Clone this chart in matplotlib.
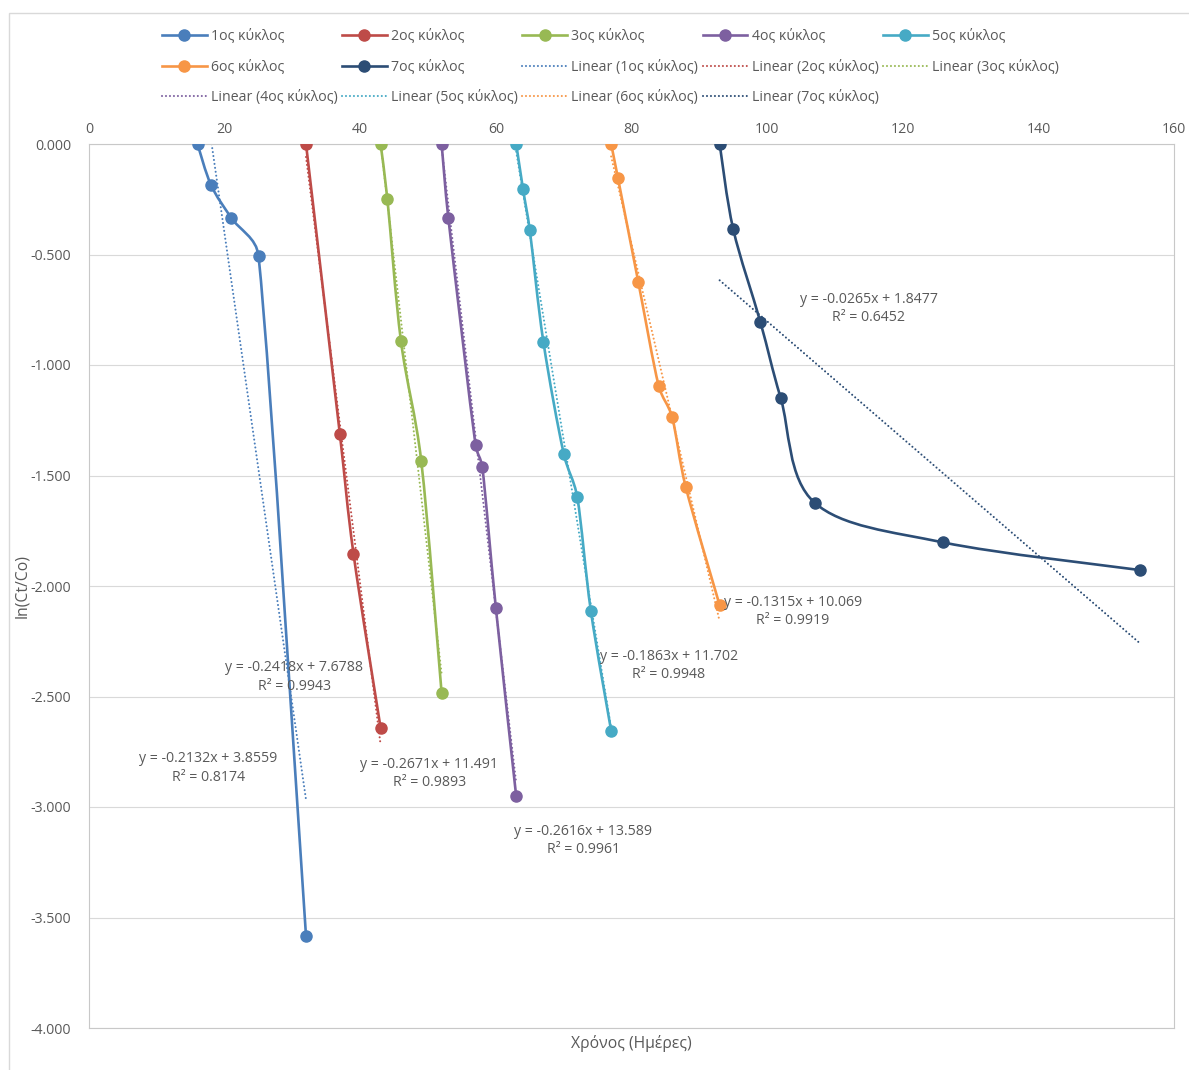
import numpy as np
import matplotlib
matplotlib.use("Agg")
import matplotlib.pyplot as plt
from matplotlib.path import Path
from matplotlib.patches import PathPatch, Rectangle
from matplotlib.lines import Line2D

plt.rcParams['font.family'] = ['Open Sans', 'DejaVu Sans']

# data
labels = ['1ος κύκλος', '2ος κύκλος', '3ος κύκλος', '4ος κύκλος',
          '5ος κύκλος', '6ος κύκλος', '7ος κύκλος']
t1 = [16, 18, 21, 25, 32]
c1 = [0.000, -0.186, -0.335, -0.507, -3.583]
t2 = [32, 37, 39, 43]
c2 = [0.000, -1.314, -1.853, -2.642]
t3 = [43, 44, 46, 49, 52]
c3 = [0.000, -0.249, -0.891, -1.436, -2.485]
t4 = [52, 53, 57, 58, 60, 63]
c4 = [0.000, -0.337, -1.362, -1.462, -2.100, -2.952]
t5 = [63, 64, 65, 67, 70, 72, 74, 77]
c5 = [0.000, -0.204, -0.390, -0.894, -1.401, -1.598, -2.111, -2.655]
t6 = [77, 78, 81, 84, 86, 88, 93]
c6 = [0.000, -0.154, -0.624, -1.093, -1.237, -1.552, -2.087]
t7 = [93, 95, 99, 102, 107, 126, 155]
c7 = [0.000, -0.385, -0.805, -1.149, -1.623, -1.803, -1.928]

# linear trendlines (as printed on the chart)
slopes = [-0.2132, -0.2418, -0.2671, -0.2616, -0.1863, -0.1315, -0.0265]
icepts = [3.8559, 7.6788, 11.491, 13.589, 11.702, 10.069, 1.8477]
eq_text = ['y = -0.2132x + 3.8559', 'y = -0.2418x + 7.6788',
           'y = -0.2671x + 11.491', 'y = -0.2616x + 13.589',
           'y = -0.1863x + 11.702', 'y = -0.1315x + 10.069',
           'y = -0.0265x + 1.8477']
r2_text = ['0.8174', '0.9943', '0.9893', '0.9961', '0.9948', '0.9919', '0.6452']
# where the equation labels sit (data coords)
eq_x = [17.6, 30.3, 50.2, 72.9, 85.5, 103.8, 115.0]
eq_y = [-2.824, -2.412, -2.847, -3.151, -2.360, -2.116, -0.743]

colors = ['#4A7EBB', '#BE4B48', '#98B954', '#7D60A0', '#46AAC5', '#F79646', '#2C4D75']
TXT = '#595959'

T = [t1, t2, t3, t4, t5, t6, t7]
C = [c1, c2, c3, c4, c5, c6, c7]

W, H = 1189, 1070
AX_L, AX_R, AX_T, AX_B = 89, 1174, 144, 1028
SX = (AX_R - AX_L) / 160.0   # px per day
SY = (AX_B - AX_T) / 4.0     # px per unit


def smooth_path(x, y, lim=0.4):
    # excel-like smoothed line: catmull-rom bezier, arms limited in screen space
    pts = np.column_stack([x, y]).astype(float)
    scl = np.array([SX, SY])
    n = len(pts)
    verts = [pts[0]]
    codes = [Path.MOVETO]
    for i in range(n - 1):
        p0 = pts[max(i - 1, 0)]
        p1 = pts[i]
        p2 = pts[i + 1]
        p3 = pts[min(i + 2, n - 1)]
        seg = np.hypot(*((p2 - p1) * scl))
        a = (p2 - p0) / 6.0
        b = (p3 - p1) / 6.0
        la = np.hypot(*(a * scl))
        lb = np.hypot(*(b * scl))
        if la > lim * seg:
            a = a * lim * seg / la
        if lb > lim * seg:
            b = b * lim * seg / lb
        verts += [p1 + a, p2 - b, p2]
        codes += [Path.CURVE4] * 3
    return Path(verts, codes)


fig = plt.figure(figsize=(W / 100, H / 100), dpi=100)
ax = fig.add_axes([AX_L / W, 1 - AX_B / H, (AX_R - AX_L) / W, (AX_B - AX_T) / H])

lw = 1.9
ms = 8
dots = (0, (0.01, 1.9))
dlw = 1.5
for i in range(7):
    ax.add_patch(PathPatch(smooth_path(T[i], C[i]), facecolor='none',
                           edgecolor=colors[i], lw=lw, zorder=3))
    ax.plot(T[i], C[i], 'o', color=colors[i], ms=ms, zorder=4)
    xs = np.array([min(T[i]), max(T[i])])
    ax.plot(xs, slopes[i] * xs + icepts[i], color=colors[i], lw=dlw,
            linestyle=dots, dash_capstyle='round', zorder=2)
    ax.text(eq_x[i], eq_y[i], eq_text[i] + '\nR² = ' + r2_text[i],
            ha='center', va='center', multialignment='center',
            fontsize=10.2, color=TXT, linespacing=1.3, zorder=5)

ax.set_xlim(0, 160)
ax.set_ylim(-4, 0)
ax.set_xticks(np.arange(0, 161, 20))
ax.set_yticks(np.arange(-4, 0.01, 0.5))
ax.set_yticklabels(['%.3f' % v for v in np.arange(-4, 0.01, 0.5)])
ax.xaxis.tick_top()
ax.tick_params(length=0, labelsize=10.2, labelcolor=TXT)
ax.tick_params(axis='x', pad=5)
ax.tick_params(axis='y', pad=13)
ax.grid(axis='y', color='#D9D9D9', lw=0.8)
ax.set_axisbelow(True)
for s in ax.spines.values():
    s.set_color('#C8C8C8')
    s.set_linewidth(0.8)

fig.text(22 / W, 1 - 586 / H, 'ln(Ct/Co)', rotation=90, ha='center',
         va='center', fontsize=11.3, color=TXT)
fig.text(631 / W, 1 - 1043 / H, 'Χρόνος (Ημέρες)', ha='center',
         va='center', fontsize=11.3, color=TXT)

# outer chart frame
fig.add_artist(Rectangle((9 / W, -0.05), 1.2, 1 - 13 / H + 0.05,
                         transform=fig.transFigure, fill=False,
                         edgecolor='#D9D9D9', lw=1.0))

# legend, filled row by row like excel
handles = [Line2D([], [], color=colors[i], lw=lw, marker='o', ms=ms) for i in range(7)]
handles += [Line2D([], [], color=colors[i], lw=dlw, linestyle=dots,
                   dash_capstyle='round') for i in range(7)]
names = labels + ['Linear (%s)' % l for l in labels]
order = [r * 5 + c for c in range(5) for r in range(3) if r * 5 + c < 14]
fig.legend([handles[k] for k in order], [names[k] for k in order],
           ncol=5, loc='upper left', bbox_to_anchor=(162 / W, 1 - 29 / H),
           frameon=False, fontsize=10.2, labelcolor=TXT, handlelength=3.15,
           handletextpad=0.3, columnspacing=0.32, labelspacing=1.1,
           borderpad=0, borderaxespad=0)

fig.savefig('out.png', dpi=100)
